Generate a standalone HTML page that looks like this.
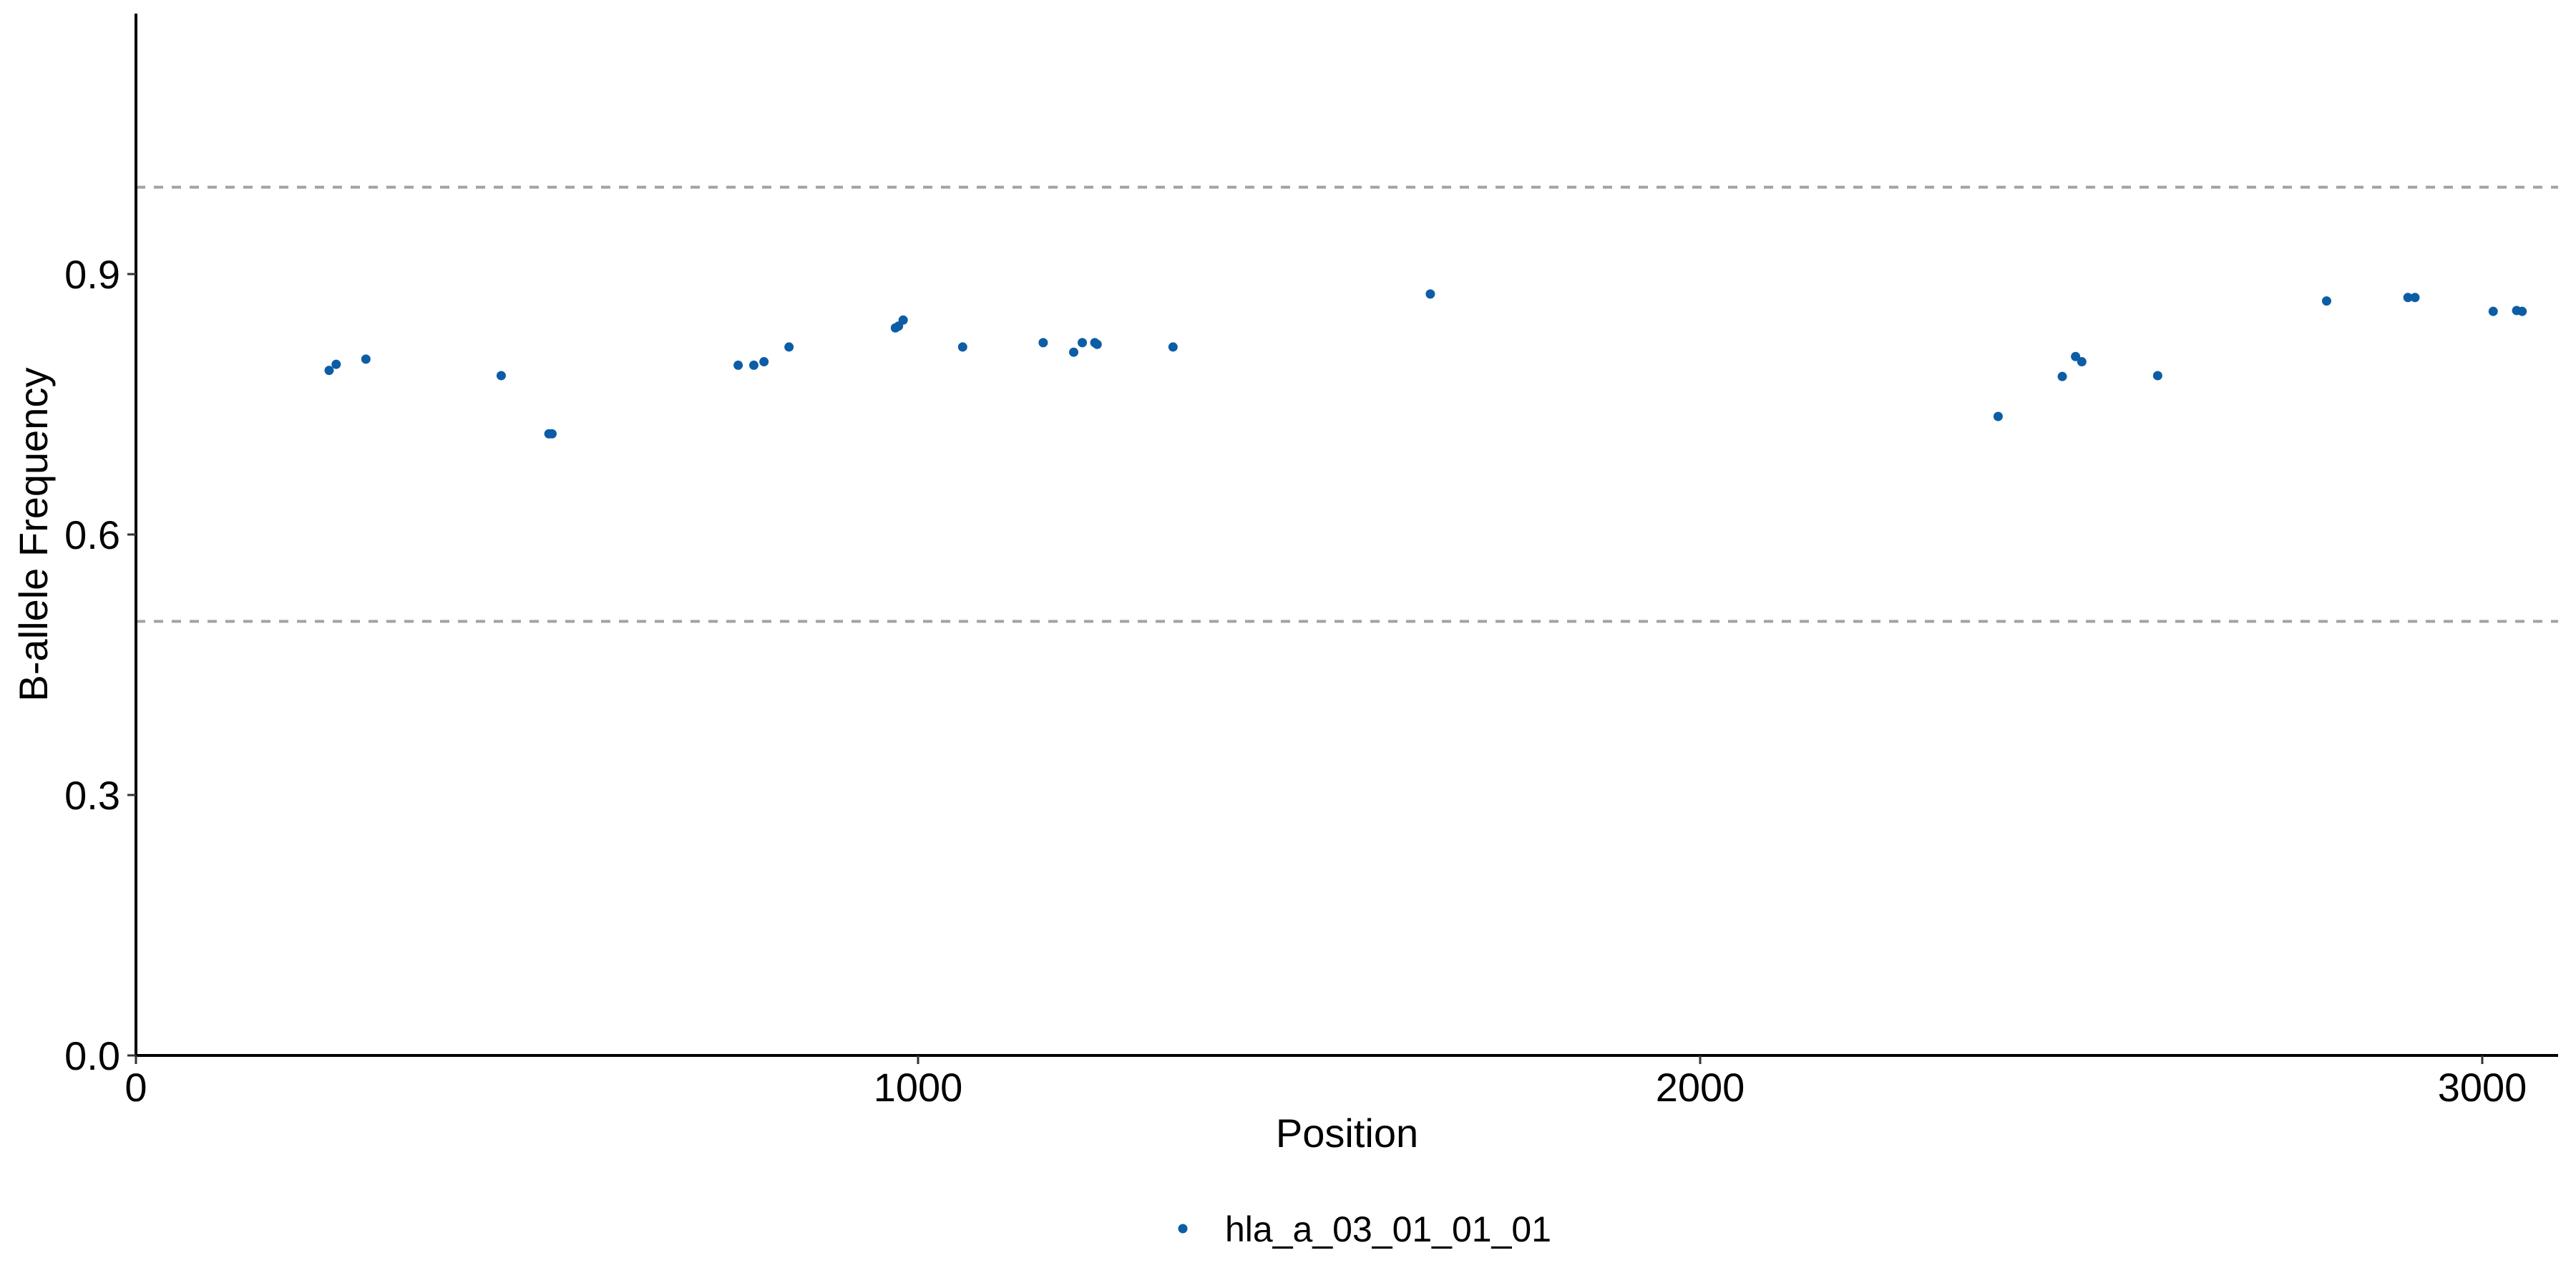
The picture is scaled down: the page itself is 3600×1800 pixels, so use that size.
<!DOCTYPE html>
<html><head><meta charset="utf-8"><style>
html,body{margin:0;padding:0;background:#fff;}
svg{display:block;font-family:"Liberation Sans",Arial,sans-serif;}
</style></head><body>
<svg id="chart" width="3600" height="1800" viewBox="0 0 3600 1800" xmlns="http://www.w3.org/2000/svg">
<rect width="3600" height="1800" fill="#fff"/>
<g id="plot"></g>
</svg>
<script>
const positions = [247,256,294,467,528,532,770,790,803,835,971,975,981,1057,1160,1199,1210,1226,1229,1326,1655,2381,2463,2480,2488,2585,2801,2905,2914,3014,3044,3051];
const bafValues = [0.789,0.796,0.802,0.783,0.716,0.716,0.795,0.795,0.799,0.816,0.838,0.840,0.847,0.816,0.821,0.810,0.821,0.821,0.819,0.816,0.877,0.736,0.782,0.805,0.799,0.783,0.869,0.873,0.873,0.857,0.858,0.857];
const xTicks = [0,1000,2000,3000];
const yTicks = [0.0,0.3,0.6,0.9];
const yTickLabels = ["0.0","0.3","0.6","0.9"];
const refLines = [0.5,1.0];
const seriesName = "hla_a_03_01_01_01";

const X0=190,X1=3575,Y0=1475,YT=19,XMAX=3097,YMAX=1.2;
const sx=v=>X0+(X1-X0)*v/XMAX;
const sy=v=>Y0-(Y0-YT)*v/YMAX;
const NS="http://www.w3.org/2000/svg";
const g=document.getElementById('plot');
function mk(tag,attrs,parent){const e=document.createElementNS(NS,tag);for(const k in attrs)e.setAttribute(k,attrs[k]);(parent||g).appendChild(e);return e;}

refLines.forEach(v=>{
  const l=mk('line',{x1:X0,x2:X1,y1:sy(v),y2:sy(v),stroke:'#a3a3a3','stroke-width':4,'stroke-dasharray':'13,12'});
  
  
});
positions.forEach((p,i)=>{
  const c=mk('circle',{cx:sx(p),cy:sy(bafValues[i]),r:6.5,fill:'#0c5da5'});
  
  
});
const ya=mk('line',{x1:X0,x2:X0,y1:YT,y2:Y0+1,stroke:'#000','stroke-width':4});


const xa=mk('line',{x1:X0-2,x2:X1,y1:Y0,y2:Y0,stroke:'#000','stroke-width':4});


yTicks.forEach((v,i)=>{
  mk('line',{x1:X0-12,x2:X0,y1:sy(v),y2:sy(v),stroke:'#333','stroke-width':3});
  const t=mk('text',{x:X0-22,y:sy(v)+20,'text-anchor':'end','font-size':56,fill:'#000'});
  t.textContent=yTickLabels[i];
  
  
});
xTicks.forEach(v=>{
  mk('line',{x1:sx(v),x2:sx(v),y1:Y0,y2:Y0+12,stroke:'#333','stroke-width':3});
  const t=mk('text',{x:sx(v),y:1539,'text-anchor':'middle','font-size':56,fill:'#000'});
  t.textContent=String(v);
  
  
});
const xt=mk('text',{x:(X0+X1)/2,y:1603,'text-anchor':'middle','font-size':56,fill:'#000'});
xt.textContent='Position';


const yt=mk('text',{x:0,y:0,'text-anchor':'middle','font-size':56,fill:'#000',transform:'translate(66,'+((YT+Y0)/2)+') rotate(-90)'});
yt.textContent='B-allele Frequency';


const lg=mk('g',{});


mk('circle',{cx:1653,cy:1717,r:6.5,fill:'#0c5da5'},lg);
const lt=mk('text',{x:1712,y:1735,'font-size':50,fill:'#000'},lg);
lt.textContent=seriesName;
</script>
</body></html>
